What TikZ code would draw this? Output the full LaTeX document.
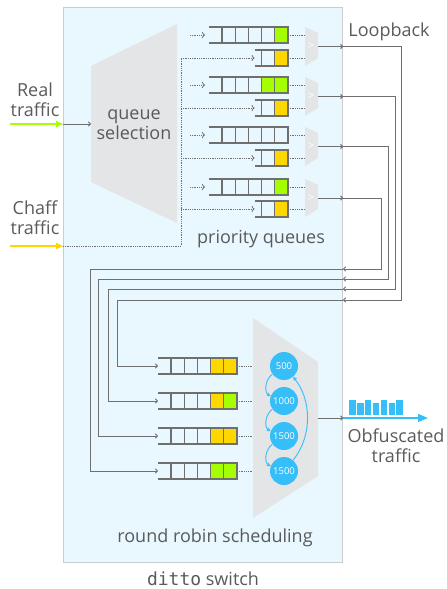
\documentclass[tikz,border=0pt]{standalone}
\usepackage{fontspec}
\setmainfont{Open Sans}
\setmonofont{DejaVu Sans Mono}
\usetikzlibrary{arrows.meta, positioning, calc}
\definecolor{swfill}{HTML}{E9F8FE}
\definecolor{swborder}{HTML}{C9CDD0}
\definecolor{muxgray}{HTML}{E3E5E6}
\definecolor{linegray}{HTML}{6F6F6F}
\definecolor{textgray}{HTML}{5A5A5A}
\definecolor{qgreen}{HTML}{A6FF00}
\definecolor{qyellow}{HTML}{FFD700}
\definecolor{rrblue}{HTML}{36BEF9}

% queue: name, right end, y, cells, open stub, fills from the right
\newcommand{\fifo}[6]{%
  \node[fifobox, minimum width=#4*13.2pt, anchor=east] (#1) at (#2,#3) {};
  \foreach \col [count=\i] in {#6}
    \path[fill=\col] ($(#1.north east)+(13.2-\i*13.2,0)$) rectangle ++(-13.2,16);
  \draw[fifoline] ([xshift=-#5pt]#1.north west) -- (#1.north east) -- (#1.south east) -- ([xshift=-#5pt]#1.south west);
  \foreach \i in {1,...,#4}
    \draw[fifoline] ($(#1.north east)+(-\i*13.2,0)$) -- ++(0,16);
  \coordinate (#1-in) at ([xshift=-#5pt]#1.west);
}

\begin{document}
\begin{tikzpicture}[x=1pt, y=-1pt,
    switchbox/.style={rectangle, draw=swborder, fill=swfill, line width=1.2pt, minimum width=279pt, minimum height=555pt, anchor=north west, inner sep=0pt},
    fifobox/.style={rectangle, inner sep=0pt, outer sep=0pt, minimum height=16pt},
    fifoline/.style={line width=1.2pt, color=linegray},
    mux/.style={fill=muxgray},
    link/.style={-{To[length=3pt,width=5pt]}, line width=1pt, color=linegray},
    dotlink/.style={densely dotted, line width=0.8pt, color=linegray},
    feed/.style={-{Triangle[length=7pt,width=6pt]}, line width=1.6pt, color=#1},
    lbl/.style={font=\fontsize{18}{20}\selectfont, color=textgray, align=center, inner sep=0pt},
    sel/.style={text=white, font=\fontsize{11}{12}\selectfont, inner sep=0pt},
    weight/.style={circle, fill=rrblue, minimum size=28pt, inner sep=0pt, text=white, font=\fontsize{9.5}{11}\selectfont},
    rrarrow/.style={-{Stealth[length=4pt,width=4pt]}, line width=0.9pt, color=rrblue},
    obf/.style={-{Triangle[length=10pt,width=8pt]}, line width=1.6pt, color=rrblue}
]
\useasboundingbox (0,0) rectangle (447,589);

% Switch
\node[switchbox] (switch) at (63,7) {};
\node[lbl] (swname) at (203,579) {\texttt{ditto} switch};

% Queue selection
\fill[mux] (91,66) -- (177,24) -- (177,223) -- (91,182) -- cycle;
\node[lbl] (qsel) at (134,125) {queue\\selection};
\coordinate (qselin) at (91,124);

% Real traffic
\node[lbl] (real) at (35,100) {Real\\traffic};
\coordinate (realsrc) at (10,124);
\draw[feed=qgreen] (realsrc) -- (realsrc -| switch.west);
\draw[link] (realsrc -| switch.west) -- (qselin);

% Chaff traffic
\node[lbl] (chaff) at (35,218) {Chaff\\traffic};
\coordinate (chaffsrc) at (10,246);
\coordinate (chaffbus) at (181,246);
\draw[feed=qyellow] (chaffsrc) -- (chaffsrc -| switch.west);

% Priority queues
\fifo{pq1}{288}{35}{5}{13}{qgreen}
\fifo{sq1}{288}{58}{2}{7}{qyellow}
\fifo{pq2}{288}{85}{5}{13}{qgreen,qgreen}
\fifo{sq2}{288}{108}{2}{7}{qyellow}
\fifo{pq3}{288}{135}{5}{13}{none}
\fifo{sq3}{288}{158}{2}{7}{qyellow}
\fifo{pq4}{288}{187}{5}{13}{qgreen}
\fifo{sq4}{288}{209}{2}{7}{qyellow}
\node[lbl] (pqlabel) at (261,239) {priority queues};
\draw[dotlink] (chaffsrc -| switch.west) -- (chaffbus) -- (chaffbus |- sq1-in);

% Round robin queues
\fifo{rrq1}{237}{366}{5}{13}{qyellow,qyellow}
\fifo{rrq2}{237}{401}{5}{13}{qgreen,qyellow}
\fifo{rrq3}{237}{436}{5}{13}{qyellow,qyellow}
\fifo{rrq4}{237}{471}{5}{13}{qgreen,qgreen}

% Round robin scheduler
\fill[mux] (253,318) -- (318,362) -- (318,476) -- (253,518) -- cycle;
\node[weight] (w1) at (284,366) {500};
\node[weight] (w2) at (284,401) {1000};
\node[weight] (w3) at (284,436) {1500};
\node[weight] (w4) at (284,471) {1500};
\draw[rrarrow] (w1.215) .. controls +(-7,5) and +(-7,-4) .. (w2.160);
\draw[rrarrow] (w2.215) .. controls +(-7,5) and +(-7,-4) .. (w3.160);
\draw[rrarrow] (w3.215) .. controls +(-7,5) and +(-7,-4) .. (w4.160);
\draw[rrarrow] (w4.50) .. controls +(20,-25) and +(18,22) .. (w1.-50);
\node[lbl] (rrlabel) at (215,538) {round robin scheduling};

% Pairs: output mux, feeds, loopback
\foreach \k/\yl/\ys/\out/\ret/\back in {1/35/58/58/300/41, 2/85/108/52/289/50, 3/135/158/45/279/60, 4/187/209/38/269/68} {
  \fill[mux] (305,\yl-8) -- (318,\yl-2) -- (318,\ys) -- (305,\ys+8) -- cycle;
  \node[sel] (pmux\k) at (311,{(\yl+\ys)/2}) {>};
  \coordinate (pout\k) at (318,{(\yl+\ys)/2});
  \coordinate (ret\k) at (343,\ret);
  \draw[dotlink, -{To[length=3pt]}] ($(pq\k-in)+(-19,0)$) -- ($(pq\k-in)+(-4,0)$);
  \draw[dotlink, -{To[length=3pt]}] (chaffbus |- sq\k-in) -- (sq\k-in);
  \draw[dotlink] (pq\k.east) -- ++(17,0);
  \draw[dotlink] (sq\k.east) -- ++(17,0);
  \draw[link] (pout\k) -- (pout\k -| switch.east);
  \draw[link] (pout\k -| switch.east) -- ++(\out,0) |- (ret\k);
  \draw[link] (ret\k) -| ($(rrq\k-in)+(-\back,0)$) -- (rrq\k-in);
  \draw[dotlink] (rrq\k.east) -- ++(16,0);
}
\node[lbl] (loop) at (389,32) {Loopback};

% Obfuscated output
\coordinate (rrout) at (318,418);
\coordinate (obfend) at (428,418);
\draw[link] (rrout) -- (rrout -| switch.east);
\draw[obf] (rrout -| switch.east) -- (obfend);
\foreach \i/\h in {0/15,1/12,2/15,3/12,4/15,5/12,6/15}
  \fill[rrblue] (349+\i*7.9,415) rectangle ++(6.6,-\h);
\node[lbl] (obf) at (396,446) {Obfuscated\\traffic};

\end{tikzpicture}
\end{document}
